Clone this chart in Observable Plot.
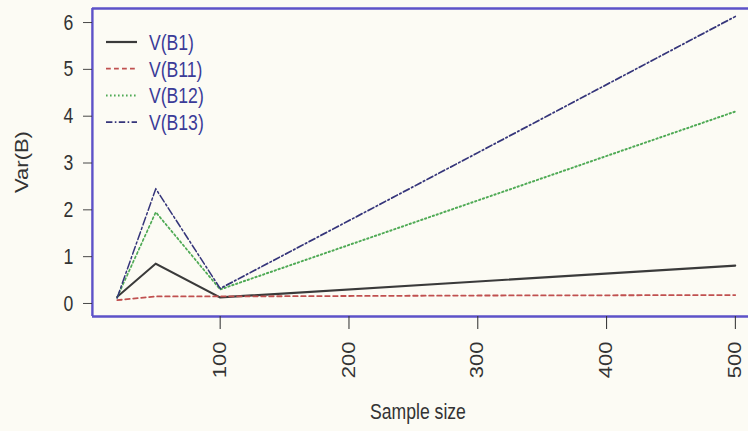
<!DOCTYPE html>
<html>
<head>
<meta charset="utf-8">
<script src="https://cdn.jsdelivr.net/npm/d3@7"></script>
<script src="https://cdn.jsdelivr.net/npm/@observablehq/plot@0.6"></script>
<style>
  html, body { margin: 0; padding: 0; background: #fcfbf4; overflow: hidden; }
  #wrap { position: relative; width: 748px; height: 431px; overflow: hidden; }
</style>
</head>
<body>
<div id="wrap"></div>
<script>
// Data
const sampleSizes = [20, 50, 100, 300, 500];
const seriesNames = ["V(B1)", "V(B11)", "V(B12)", "V(B13)"];
const vB1  = [0.14, 0.85, 0.13, 0.47, 0.81];
const vB11 = [0.07, 0.15, 0.15, 0.17, 0.18];
const vB12 = [0.13, 1.95, 0.30, 2.20, 4.10];
const vB13 = [0.12, 2.45, 0.32, 3.22, 6.13];
const yTicks = [0, 1, 2, 3, 4, 5, 6];
const xTicks = [100, 200, 300, 400, 500];

const styles = {
  "V(B1)":  {color: "#3a3a3a", dash: null, width: 2.2},
  "V(B11)": {color: "#c0504f", dash: "6,4", width: 1.8},
  "V(B12)": {color: "#4faa55", dash: "2,3", width: 2},
  "V(B13)": {color: "#35357a", dash: "8,3,2,3", width: 1.8}
};

const allSeries = [vB1, vB11, vB12, vB13];
const rows = [];
seriesNames.forEach((name, i) => {
  sampleSizes.forEach((x, j) => rows.push({series: name, x, y: allSeries[i][j]}));
});

// the chart is drawn in a wider virtual space and squeezed horizontally
const SX = 0.8;
const W = 748 / SX;
const border = "#5d52c8";
const font = "'Liberation Sans', Arial, sans-serif";
const FS = 22;

const chart = Plot.plot({
  width: W,
  height: 431,
  marginLeft: 92 / SX,
  marginTop: 8,
  marginBottom: 115,
  marginRight: 0,
  style: {background: "#fcfbf4", fontFamily: font, fontSize: FS + "px", color: "#333"},
  x: {domain: [0.8, 519.2], range: [92 / SX, 759.7 / SX]},
  y: {domain: [-0.278, 6.30]},
  marks: [
    ...seriesNames.map(name => Plot.line(rows.filter(r => r.series === name), {
      x: "x", y: "y",
      stroke: styles[name].color,
      strokeWidth: styles[name].width,
      strokeDasharray: styles[name].dash
    })),
    Plot.ruleY([-0.278], {stroke: border, strokeWidth: 2.5}),
    Plot.ruleY([6.30], {stroke: border, strokeWidth: 2.5}),
    Plot.ruleX([0.8], {stroke: border, strokeWidth: 3}),
    Plot.axisY(yTicks, {
      tickSize: 9 / SX, tickPadding: 10 / SX, label: null, stroke: "#333",
      fontSize: FS, fill: "#333"
    }),
    Plot.axisX(xTicks, {
      tickSize: 13, tickPadding: 12, tickRotate: -90, label: null,
      stroke: "#333", strokeWidth: 1.3, fontSize: FS, fill: "#333"
    })
  ]
});

chart.setAttribute("width", 748);
chart.setAttribute("height", 431);
chart.setAttribute("viewBox", `0 0 ${W} 431`);
chart.setAttribute("preserveAspectRatio", "none");
chart.style.width = "748px";
chart.style.height = "431px";
chart.style.maxWidth = "none";

const wrap = document.getElementById("wrap");
wrap.appendChild(chart);

// Axis titles
const svg = d3.select(chart);
svg.append("text")
  .attr("transform", `translate(${22 / SX},162) rotate(-90)`)
  .attr("text-anchor", "middle")
  .attr("dy", "0.35em")
  .attr("font-family", font).attr("font-size", FS).attr("fill", "#333")
  .text("Var(B)");
svg.append("text")
  .attr("x", 418 / SX).attr("y", 419)
  .attr("text-anchor", "middle")
  .attr("font-family", font).attr("font-size", FS).attr("fill", "#333")
  .text("Sample size");

// Legend
const lg = svg.append("g").attr("font-family", font).attr("font-size", FS);
seriesNames.forEach((name, i) => {
  const yy = 42 + i * 26.7;
  lg.append("line")
    .attr("x1", 106 / SX).attr("x2", 137 / SX).attr("y1", yy).attr("y2", yy)
    .attr("stroke", styles[name].color)
    .attr("stroke-width", styles[name].width)
    .attr("stroke-dasharray", styles[name].dash);
  lg.append("text")
    .attr("x", 149 / SX).attr("y", yy).attr("dy", "0.36em")
    .attr("text-anchor", "start")
    .attr("fill", "#3b3b98")
    .text(name);
});
</script>
</body>
</html>
